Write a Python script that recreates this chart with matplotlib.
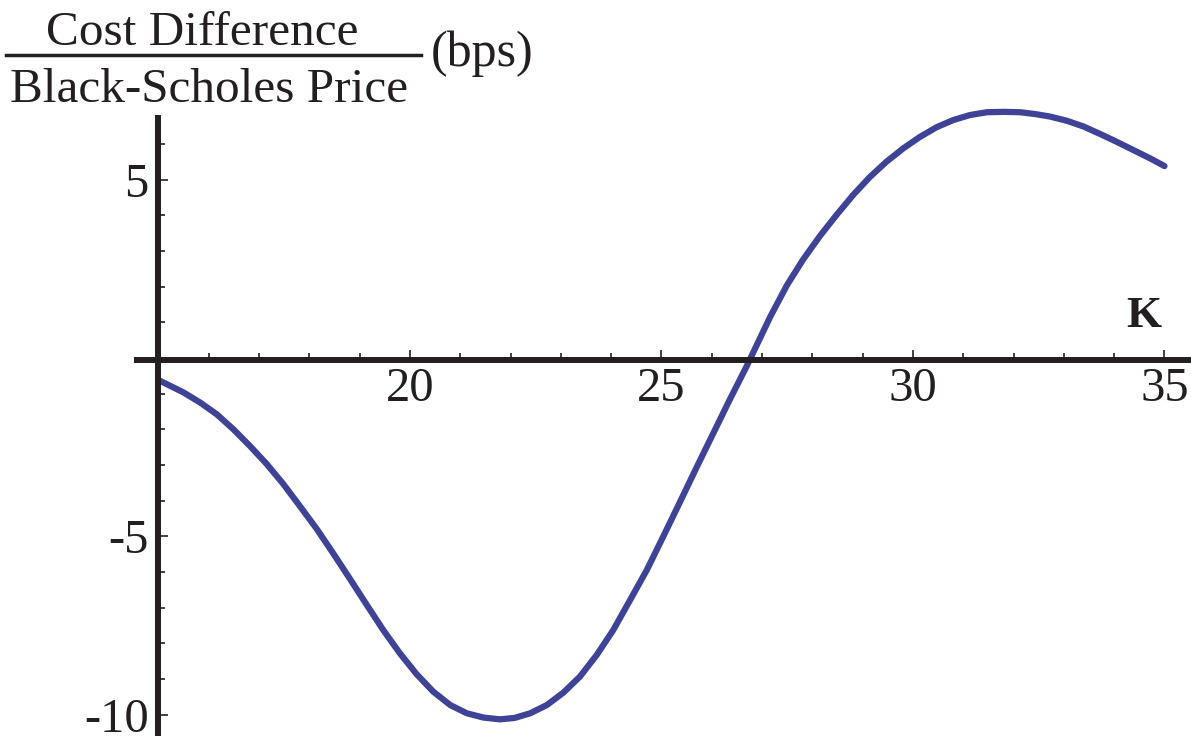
import matplotlib
matplotlib.use("Agg")
import matplotlib.pyplot as plt
from matplotlib.lines import Line2D

plt.rcParams['font.family'] = ['Liberation Serif', 'DejaVu Serif']
plt.rcParams['axes.unicode_minus'] = False

# ---- data ----
strike_K = [15.0, 15.16, 15.49, 15.83, 16.16, 16.49, 16.82, 17.15, 17.48, 17.81,
            18.15, 18.48, 18.81, 19.14, 19.47, 19.80, 20.13, 20.46, 20.80, 21.13,
            21.46, 21.79, 22.08, 22.39, 22.72, 23.05, 23.38, 23.71, 24.04, 24.37,
            24.71, 25.04, 25.37, 25.70, 26.03, 26.36, 26.69, 27.16, 27.49, 27.82,
            28.15, 28.48, 28.81, 29.14, 29.47, 29.81, 30.14, 30.47, 30.80, 31.13,
            31.47, 31.80, 32.13, 32.42, 32.72, 33.06, 33.39, 33.72, 34.05, 34.38,
            34.71, 35.0]
cost_diff_bps = [-0.62, -0.73, -0.96, -1.25, -1.58, -2.00, -2.47, -2.97, -3.53, -4.15,
                 -4.80, -5.49, -6.20, -6.92, -7.63, -8.28, -8.86, -9.35, -9.73, -9.96,
                 -10.08, -10.13, -10.09, -9.96, -9.73, -9.38, -8.93, -8.33, -7.63, -6.80,
                 -5.94, -4.99, -4.03, -3.06, -2.11, -1.16, -0.24, 1.15, 2.03, 2.77,
                 3.42, 4.01, 4.57, 5.07, 5.50, 5.88, 6.20, 6.47, 6.67, 6.81,
                 6.89, 6.90, 6.89, 6.84, 6.77, 6.65, 6.49, 6.28, 6.06, 5.83,
                 5.60, 5.38]

x_major = [20, 25, 30, 35]
x_major_labels = ['20', '25', '30', '35']
x_minor = [16, 17, 18, 19, 21, 22, 23, 24, 26, 27, 28, 29, 31, 32, 33, 34]
y_major = [5, -5, -10]
y_major_labels = ['5', '-5', '-10']
y_minor = [-9, -8, -7, -6, -4, -3, -2, -1, 1, 2, 3, 4, 6]

title_top = 'Cost Difference'
title_bottom = 'Black-Scholes Price'
title_unit = '(bps)'
x_name = 'K'

INK = '#231f20'
LINE = '#3e4396'

W, H = 1191, 736
fig = plt.figure(figsize=(W / 100, H / 100), dpi=100)
ax = fig.add_axes([137 / W, 0, (1190 - 137) / W, (736 - 118) / H])
ax.set_xlim(14.573, 35.507)
ax.set_ylim(-10.597, 6.728)

ax.plot(strike_K, cost_diff_bps, color=LINE, lw=4.5, solid_capstyle='round',
        solid_joinstyle='round', clip_on=False, zorder=3)

for s in ['top', 'right']:
    ax.spines[s].set_visible(False)
ax.spines['left'].set_position(('data', 15))
ax.spines['bottom'].set_position(('data', -0.06))
for s in ['left', 'bottom']:
    ax.spines[s].set_linewidth(4.3)
    ax.spines[s].set_color(INK)
    ax.spines[s].set_zorder(4)

ax.set_xticks(x_major)
ax.set_xticklabels(x_major_labels)
ax.set_xticks(x_minor, minor=True)
ax.set_yticks(y_major)
ax.set_yticklabels(y_major_labels)
ax.set_yticks(y_minor, minor=True)

ax.tick_params(which='major', direction='in', length=7.5, width=1.2, color=INK,
               labelsize=35, labelcolor=INK)
ax.tick_params(which='minor', direction='in', length=5, width=1.2, color=INK)
ax.tick_params(axis='x', which='major', pad=5)
ax.tick_params(axis='y', which='major', pad=7)

ax.text(34.58, 0.87, x_name, ha='center', va='baseline', fontsize=32.5,
        fontweight='bold', color=INK)

# y-axis label as a fraction
fig.text(202 / W, 1 - 45 / H, title_top, ha='center', va='baseline',
         fontsize=35.5, color=INK)
fig.text(208.6 / W, 1 - 101.7 / H, title_bottom, ha='center', va='baseline',
         fontsize=35.5, color=INK)
fig.add_artist(Line2D([5.7 / W, 421 / W], [1 - 55 / H, 1 - 55 / H],
                      transform=fig.transFigure, color=INK, lw=2.5))
fig.text(482 / W, 1 - 65.8 / H, title_unit, ha='center', va='baseline',
         fontsize=36, color=INK)

fig.savefig('out.png', dpi=100)
